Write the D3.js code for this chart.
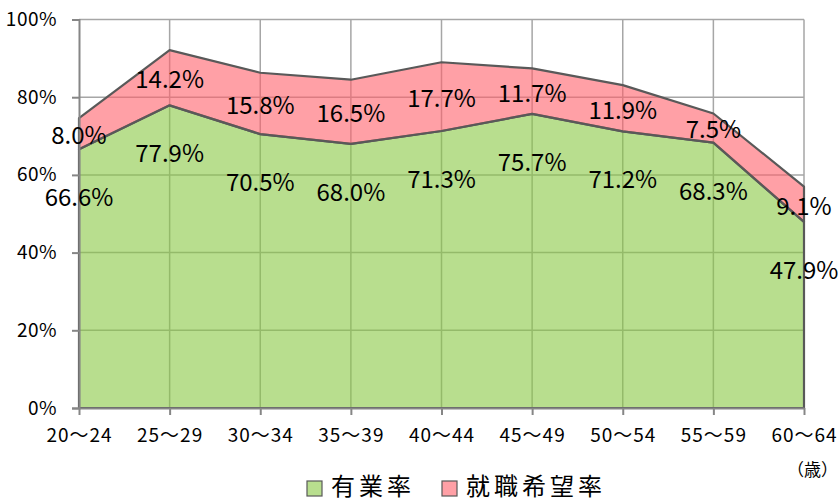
<!DOCTYPE html>
<html>
<head>
<meta charset="utf-8">
<script src="https://cdn.jsdelivr.net/npm/d3@7"></script>
<style>
body { margin: 0; background: #fff; }
svg text { font-family: "Noto Sans CJK JP", "Noto Sans", sans-serif; }
</style>
</head>
<body>
<svg width="838" height="502"></svg>
<script>
// 年齢階級
var ages = ["20〜24", "25〜29", "30〜34", "35〜39", "40〜44", "45〜49", "50〜54", "55〜59", "60〜64"];
// 有業率 (%)
var employed = [66.6, 77.9, 70.5, 68.0, 71.3, 75.7, 71.2, 68.3, 47.9];
// 就職希望率 (%)
var wishing = [8.0, 14.2, 15.8, 16.5, 17.7, 11.7, 11.9, 7.5, 9.1];
var yTicks = [0, 20, 40, 60, 80, 100];
var seriesNames = ["有業率", "就職希望率"];
var colors = ["rgb(137,200,67)", "rgb(255,97,107)"];
var legendColors = ["#b8de8e", "#ffa0a6"];

var svg = d3.select("svg");
var margin = {top: 19.5, left: 79, right: 34, bottom: 94};
var width = 838 - margin.left - margin.right;
var height = 502 - margin.top - margin.bottom;

var graph = svg.append("g")
  .attr("transform", "translate(" + margin.left + "," + margin.top + ")");

var x = d3.scalePoint().domain(ages).range([0, width]);
var y = d3.scaleLinear().domain([0, 100]).range([height, 0]);

var data = ages.map((a, i) => ({age: a, e: employed[i], w: wishing[i]}));

// grid
graph.selectAll(".hgrid").data(yTicks.slice(1)).enter().append("line")
  .attr("x1", 0).attr("x2", width)
  .attr("y1", d => y(d)).attr("y2", d => y(d))
  .attr("stroke", "#a6a6a6").attr("stroke-width", 1.5);
graph.selectAll(".vgrid").data(ages.slice(1)).enter().append("line")
  .attr("x1", d => x(d)).attr("x2", d => x(d))
  .attr("y1", 0).attr("y2", height)
  .attr("stroke", "#a6a6a6").attr("stroke-width", 1.5);

// areas
var areaE = d3.area().x(d => x(d.age)).y0(y(0)).y1(d => y(d.e));
var areaW = d3.area().x(d => x(d.age)).y0(d => y(d.e)).y1(d => y(d.e + d.w));

graph.append("path").datum(data).attr("d", areaE)
  .attr("fill", colors[0]).attr("fill-opacity", 0.6)
  .attr("stroke", "#595959").attr("stroke-width", 2.2).attr("stroke-linejoin", "round");
graph.append("path").datum(data).attr("d", areaW)
  .attr("fill", colors[1]).attr("fill-opacity", 0.6)
  .attr("stroke", "#595959").attr("stroke-width", 2.2).attr("stroke-linejoin", "round");

// axes
var yAxis = d3.axisLeft(y).tickValues(yTicks).tickSize(7).tickFormat(d => d + "%");
var yg = graph.append("g").call(yAxis);
yg.select(".domain").attr("stroke", "#868686").attr("stroke-width", 2);
yg.selectAll(".tick line").attr("stroke", "#868686").attr("stroke-width", 2);
yg.selectAll("text").attr("font-size", 19).attr("letter-spacing", 0.5).attr("fill", "#000").attr("x", -22);

var xAxis = d3.axisBottom(x).tickSize(7).tickSizeOuter(0);
var xg = graph.append("g").attr("transform", "translate(0," + height + ")").call(xAxis);
xg.select(".domain").attr("stroke", "#868686").attr("stroke-width", 2);
xg.selectAll(".tick line").attr("stroke", "#868686").attr("stroke-width", 2);
xg.selectAll("text").attr("font-size", 19).attr("letter-spacing", 1).attr("fill", "#000").attr("y", 21);

graph.append("text").attr("x", width + 34).attr("y", height + 62)
  .attr("dy", "0.35em").attr("text-anchor", "end").attr("font-size", 17).text("（歳）");

// data labels
var lblE = graph.selectAll(".lblE").data(data).enter().append("text")
  .attr("x", d => x(d.age)).attr("y", d => y(d.e - 12.5))
  .attr("dy", "0.35em").attr("text-anchor", "middle")
  .attr("font-size", 24).attr("fill", "#000")
  .text(d => d.e.toFixed(1) + "%");
graph.selectAll(".lblW").data(data).enter().append("text")
  .attr("x", d => x(d.age)).attr("y", d => y(d.e + d.w / 2) + 2)
  .attr("dy", "0.35em").attr("text-anchor", "middle")
  .attr("font-size", 24).attr("fill", "#000")
  .text(d => d.w.toFixed(1) + "%");

// push labels down when they run into a y tick label
var tickBoxes = [];
yg.selectAll("text").each(function() { tickBoxes.push(this.getBBox()); });
lblE.each(function(d) {
  var b = this.getBBox();
  var shift = 0;
  tickBoxes.forEach(t => {
    var tr = t.x + t.width, tb = t.y + t.height;
    if (b.x < tr && b.x + b.width > t.x && b.y < tb && b.y + b.height > t.y) {
      shift = Math.max(shift, tb - b.y + 8);
    }
  });
  if (shift) d3.select(this).attr("y", +d3.select(this).attr("y") + shift);
});

// legend
var legend = svg.append("g").attr("transform", "translate(307,486)");
var lx = [0, 135];
seriesNames.forEach((n, i) => {
  legend.append("rect").attr("x", lx[i]).attr("y", -5).attr("width", 15).attr("height", 15)
    .attr("fill", legendColors[i]).attr("stroke", "#595959").attr("stroke-width", 1.2);
  legend.append("text").attr("x", lx[i] + 24).attr("y", 0).attr("dy", "0.38em")
    .attr("font-size", 24).attr("letter-spacing", 4).attr("fill", "#000").text(n);
});
</script>
</body>
</html>
